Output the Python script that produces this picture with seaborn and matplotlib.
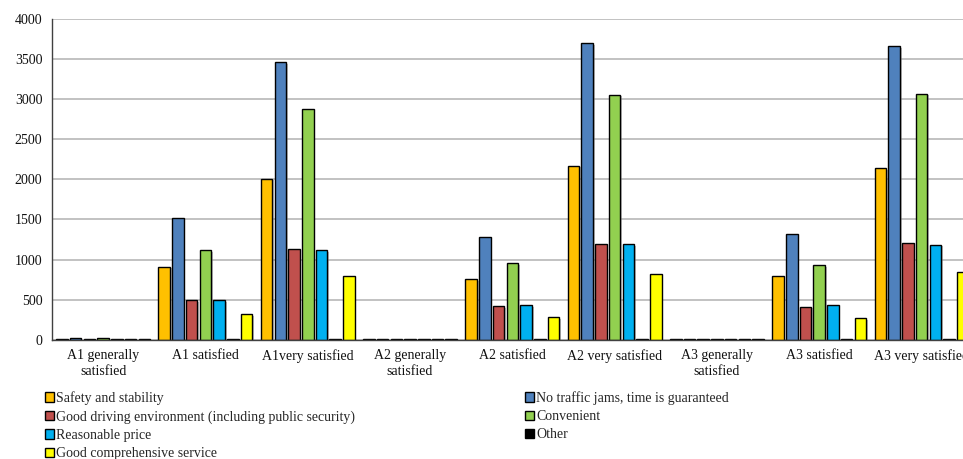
import numpy as np
import pandas as pd
import matplotlib
matplotlib.use("Agg")
import matplotlib.pyplot as plt
import matplotlib.patheffects as pe
from matplotlib.patches import Patch
import seaborn as sns

categories = ["A1 generally\nsatisfied", "A1 satisfied", "A1very satisfied",
              "A2 generally\nsatisfied", "A2 satisfied", "A2 very satisfied",
              "A3 generally\nsatisfied", "A3 satisfied", "A3 very satisfied"]

series = ["Safety and stability",
          "No traffic jams, time is guaranteed",
          "Good driving environment (including public security)",
          "Convenient",
          "Reasonable price",
          "Other",
          "Good comprehensive service"]

safety      = [10, 910, 2008, 5, 753, 2170, 8, 790, 2137]
no_traffic  = [20, 1514, 3459, 10, 1281, 3696, 8, 1314, 3662]
good_drive  = [5, 495, 1127, 5, 420, 1197, 5, 411, 1209]
convenient  = [20, 1115, 2880, 10, 953, 3055, 10, 931, 3067]
reasonable  = [10, 495, 1115, 5, 429, 1193, 5, 429, 1185]
other       = [5, 5, 10, 5, 5, 10, 5, 5, 10]
good_comp   = [5, 317, 790, 5, 279, 823, 5, 267, 840]

colors = ["#FFC000", "#4F81BD", "#C0504D", "#92D050", "#00B0F0", "#000000", "#FFFF00"]

values = [safety, no_traffic, good_drive, convenient, reasonable, other, good_comp]
rows = []
for s, vals in zip(series, values):
    for c, v in zip(categories, vals):
        rows.append({"category": c, "series": s, "value": v})
df = pd.DataFrame(rows)

sns.set_theme(style="white")
plt.rcParams["font.family"] = ["Liberation Serif", "DejaVu Serif"]

fig = plt.figure(figsize=(9.63, 4.59), dpi=100)
ax = fig.add_axes([52 / 963, (459 - 339.7) / 459, 920.7 / 963, 320.7 / 459])

sns.barplot(data=df, x="category", y="value", hue="series", order=categories,
            hue_order=series, palette=colors, saturation=1, width=0.94, gap=0.16,
            edgecolor="black", linewidth=1.0, ax=ax, legend=False)

for p in ax.patches:
    p.set_path_effects([pe.SimplePatchShadow(offset=(1.2, -1.2), shadow_rgbFace="#808080", alpha=0.5),
                        pe.Normal()])

ax.set_xlim(-0.5, 8.5)
ax.set_ylim(0, 4000)
ax.set_yticks(np.arange(0, 4001, 500))
ax.yaxis.grid(True, color="#B8B8B8", linewidth=1.2)
ax.set_axisbelow(True)
ax.set_xlabel("")
ax.set_ylabel("")

ax.set_xticks(np.arange(len(categories)))
ax.set_xticklabels(categories, fontsize=10, color="#111111", linespacing=1.3)
ax.set_xticks(np.arange(-0.5, len(categories) + 0.5, 1.0), minor=True)
ax.tick_params(axis="x", which="major", length=0, pad=7)
ax.tick_params(axis="x", which="minor", length=5, width=1, color="#404040", direction="out")
ax.tick_params(axis="y", which="major", length=4, width=1, color="#404040", direction="out",
               labelsize=10, labelcolor="#111111", pad=3)

for side in ["top", "right"]:
    ax.spines[side].set_visible(False)
for side in ["left", "bottom"]:
    ax.spines[side].set_color("#404040")
    ax.spines[side].set_linewidth(1.0)

handles = [Patch(facecolor=c, edgecolor="black", linewidth=1.0) for c in colors]
col1 = [0, 2, 4, 6]
col2 = [1, 3, 5]
kw = dict(loc="upper left", frameon=False, borderpad=0, borderaxespad=0,
          handlelength=0.65, handleheight=0.65, handletextpad=0.15,
          labelspacing=0.38, fontsize=10)
fig.legend([handles[i] for i in col1], [series[i] for i in col1],
           bbox_to_anchor=(45 / 963, 1 - 391 / 459), **kw)
fig.legend([handles[i] for i in col2], [series[i] for i in col2],
           bbox_to_anchor=(525 / 963, 1 - 391 / 459), **kw)

fig.savefig("out.png", dpi=100)
